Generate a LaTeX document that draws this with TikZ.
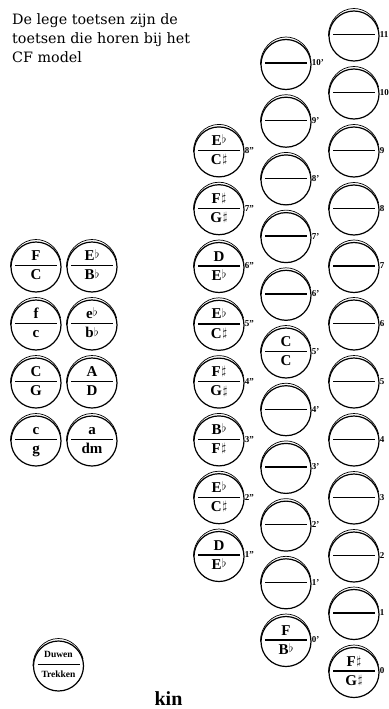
\documentclass[tikz,border=0pt]{standalone}
\usepackage{fontspec}
\setmainfont{Liberation Serif}
\newfontfamily\uitlegfont{DejaVu Serif}
\newcommand\mol{\kern0.3pt\raisebox{1.6pt}{\fontsize{11.5}{12}\selectfont$\flat$}}
\newcommand\kruis{\kern0.8pt\raisebox{1.8pt}{\fontsize{11.5}{12}\selectfont$\sharp$}}
\newcommand\paar[2]{\makebox[0pt]{\raisebox{6.5pt}{#1}}\makebox[0pt]{\raisebox{-12.8pt}{#2}}}
\tikzset{
  knop/.style={circle, draw, line width=1.2pt, minimum size=50pt, inner sep=0pt,
    text height=0pt, text depth=0pt, font=\bfseries\fontsize{15}{18}\selectfont, label distance=3pt,
    path picture={\draw[line width=1.4pt] ([xshift=4pt, yshift=1.5pt]path picture bounding box.west) -- ([xshift=-4pt, yshift=1.5pt]path picture bounding box.east);},
    append after command={(\tikzlastnode.west) edge[rand] (\tikzlastnode.east)}},
  rand/.style={line width=0.7pt, to path={arc[start angle=180, end angle=15, x radius=25.5, y radius=27.5]}},
  nummer/.style={font=\bfseries\fontsize{9}{10}\selectfont, inner sep=0pt, yshift=1.5pt},
}
\begin{document}
\begin{tikzpicture}[x=1pt, y=1pt]
        \useasboundingbox (0,0) rectangle (388,-709);
        \node[anchor=north west, align=left, inner sep=0pt, font=\uitlegfont\fontsize{14.3}{19}\selectfont] (uitleg) at (12,-13) {De lege toetsen zijn de\\toetsen die horen bij het\\CF model};
        % bassen links
        \node[knop] (b1) at (36,-267) {\paar{F}{C}};
        \node[knop] (b2) at (92,-267) {\paar{E\mol}{B\mol}};
        \node[knop] (b3) at (36,-325) {\paar{f}{c}};
        \node[knop] (b4) at (92,-325) {\paar{e\mol}{b\mol}};
        \node[knop] (b5) at (36,-383) {\paar{C}{G}};
        \node[knop] (b6) at (92,-383) {\paar{A}{D}};
        \node[knop] (b7) at (36,-441) {\paar{c}{g}};
        \node[knop] (b8) at (92,-441) {\paar{a}{dm}};
        % derde rij
        \node[knop, label={[nummer]right:8''}] (l8) at (219,-151.9) {\paar{E\mol}{C\kruis}};
        \node[knop, label={[nummer]right:7''}] (l7) at (219,-209.7) {\paar{F\kruis}{G\kruis}};
        \node[knop, label={[nummer]right:6''}] (l6) at (219,-267.5) {\paar{D}{E\mol}};
        \node[knop, label={[nummer]right:5''}] (l5) at (219,-325.3) {\paar{E\mol}{C\kruis}};
        \node[knop, label={[nummer]right:4''}] (l4) at (219,-383.1) {\paar{F\kruis}{G\kruis}};
        \node[knop, label={[nummer]right:3''}] (l3) at (219,-440.9) {\paar{B\mol}{F\kruis}};
        \node[knop, label={[nummer]right:2''}] (l2) at (219,-498.7) {\paar{E\mol}{C\kruis}};
        \node[knop, label={[nummer]right:1''}] (l1) at (219,-556.5) {\paar{D}{E\mol}};
        % tweede rij
        \node[knop, label={[nummer]right:10'}] (m10) at (286,-64.5) {};
        \node[knop, label={[nummer]right:9'}] (m9) at (286,-122.2) {};
        \node[knop, label={[nummer]right:8'}] (m8) at (286,-179.9) {};
        \node[knop, label={[nummer]right:7'}] (m7) at (286,-237.6) {};
        \node[knop, label={[nummer]right:6'}] (m6) at (286,-295.3) {};
        \node[knop, label={[nummer]right:5'}] (m5) at (286,-353) {\paar{C}{C}};
        \node[knop, label={[nummer]right:4'}] (m4) at (286,-410.7) {};
        \node[knop, label={[nummer]right:3'}] (m3) at (286,-468.4) {};
        \node[knop, label={[nummer]right:2'}] (m2) at (286,-526.1) {};
        \node[knop, label={[nummer]right:1'}] (m1) at (286,-583.8) {};
        \node[knop, label={[nummer]right:0'}] (m0) at (286,-641.5) {\paar{F}{B\mol}};
        % eerste rij
        \node[knop, label={[nummer]right:11}] (r11) at (354,-36) {};
        \node[knop, label={[nummer]right:10}] (r10) at (354,-94) {};
        \node[knop, label={[nummer]right:9}] (r9) at (354,-152) {};
        \node[knop, label={[nummer]right:8}] (r8) at (354,-210) {};
        \node[knop, label={[nummer]right:7}] (r7) at (354,-267.5) {};
        \node[knop, label={[nummer]right:6}] (r6) at (354,-325) {};
        \node[knop, label={[nummer]right:5}] (r5) at (354,-383) {};
        \node[knop, label={[nummer]right:4}] (r4) at (354,-441) {};
        \node[knop, label={[nummer]right:3}] (r3) at (354,-499) {};
        \node[knop, label={[nummer]right:2}] (r2) at (354,-557) {};
        \node[knop, label={[nummer]right:1}] (r1) at (354,-614.5) {};
        \node[knop, label={[nummer]right:0}] (r0) at (354,-672.5) {\paar{F\kruis}{G\kruis}};
        % legenda
        \node[knop, font=\bfseries\fontsize{9.5}{11}\selectfont] (legenda) at (58.5,-666) {\makebox[0pt]{\raisebox{8.3pt}{Duwen}}\makebox[0pt]{\raisebox{-11.3pt}{Trekken}}};
        \node[anchor=base, font=\bfseries\fontsize{20}{24}\selectfont] (kin) at (168.5,-705) {kin};
\end{tikzpicture}
\end{document}
